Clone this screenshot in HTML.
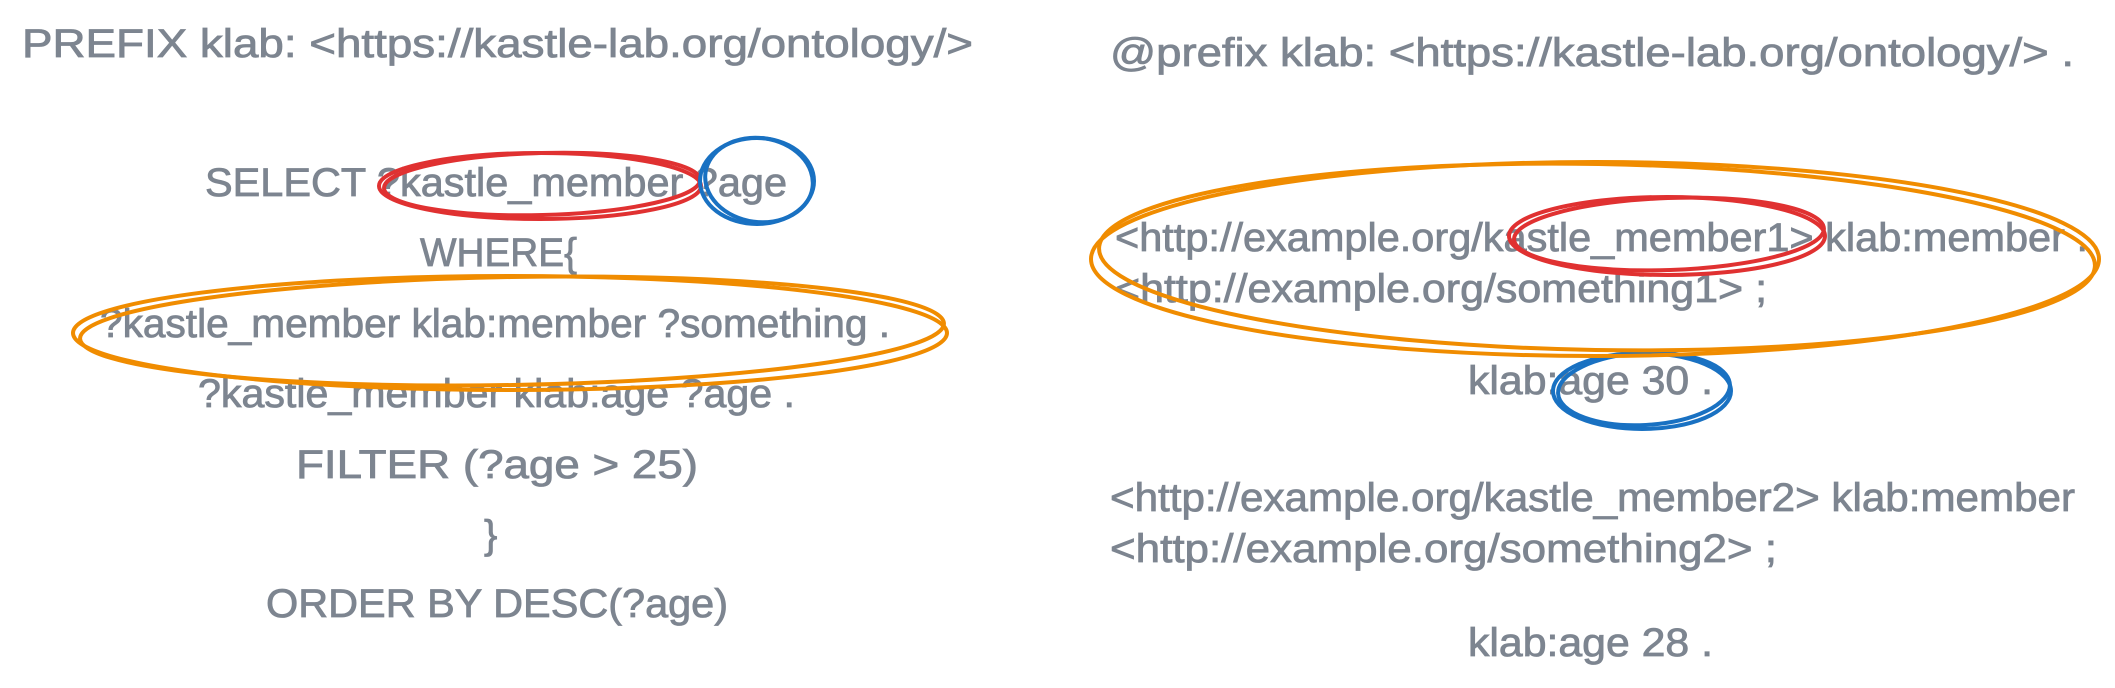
<!DOCTYPE html>
<html><head><meta charset="utf-8"><style>
html,body{margin:0;padding:0;background:#fff;}
svg{display:block;}
text{font-family:"Liberation Sans",sans-serif;font-size:40px;fill:#7d8590;stroke:#7d8590;stroke-width:0.8px;}
</style></head><body>
<svg width="2115" height="688" viewBox="0 0 2115 688" xmlns="http://www.w3.org/2000/svg">
<text x="22" y="57" textLength="951" lengthAdjust="spacingAndGlyphs">PREFIX klab: &lt;https://kastle-lab.org/ontology/&gt;</text>
<text x="205" y="196" textLength="582" lengthAdjust="spacingAndGlyphs">SELECT ?kastle_member ?age</text>
<text x="420" y="266" textLength="157" lengthAdjust="spacingAndGlyphs">WHERE{</text>
<text x="100" y="337" textLength="790" lengthAdjust="spacingAndGlyphs">?kastle_member klab:member ?something .</text>
<text x="198" y="407" textLength="597" lengthAdjust="spacingAndGlyphs">?kastle_member klab:age ?age .</text>
<text x="296" y="478" textLength="402" lengthAdjust="spacingAndGlyphs">FILTER (?age &gt; 25)</text>
<text x="484" y="548">}</text>
<text x="266" y="617" textLength="462" lengthAdjust="spacingAndGlyphs">ORDER BY DESC(?age)</text>

<text x="1110" y="66" textLength="964" lengthAdjust="spacingAndGlyphs">@prefix klab: &lt;https://kastle-lab.org/ontology/&gt; .</text>
<text x="1115" y="251" textLength="973" lengthAdjust="spacingAndGlyphs">&lt;http://example.org/kastle_member1&gt; klab:member .</text>
<text x="1115" y="302" textLength="652" lengthAdjust="spacingAndGlyphs">&lt;http://example.org/something1&gt; ;</text>
<text x="1468" y="394" textLength="245" lengthAdjust="spacingAndGlyphs">klab:age 30 .</text>
<text x="1110" y="511" textLength="965" lengthAdjust="spacingAndGlyphs">&lt;http://example.org/kastle_member2&gt; klab:member</text>
<text x="1110" y="562" textLength="667" lengthAdjust="spacingAndGlyphs">&lt;http://example.org/something2&gt; ;</text>
<text x="1468" y="656" textLength="245" lengthAdjust="spacingAndGlyphs">klab:age 28 .</text>

<g fill="none" stroke-width="4" stroke-linecap="round">
<g stroke="#e03131">
<ellipse cx="540" cy="186" rx="161" ry="33"/>
<ellipse cx="542" cy="184" rx="158" ry="31" transform="rotate(-1.5 542 184)"/>
<ellipse cx="1667" cy="236" rx="158" ry="39"/>
<ellipse cx="1669" cy="234" rx="155" ry="36" transform="rotate(-2 1669 234)"/>
</g>
<g stroke="#1971c2">
<ellipse cx="757" cy="181" rx="57" ry="43"/>
<ellipse cx="759" cy="180" rx="54" ry="42" transform="rotate(8 759 180)"/>
<ellipse cx="1642" cy="391" rx="89" ry="38"/>
<ellipse cx="1644" cy="389" rx="86" ry="36" transform="rotate(-3 1644 389)"/>
</g>
<g stroke="#f08c00">
<ellipse cx="510" cy="333" rx="437" ry="57"/>
<ellipse cx="512" cy="331" rx="432" ry="54" transform="rotate(-1 512 331)"/>
<ellipse cx="1595" cy="259" rx="504" ry="97"/>
<ellipse cx="1597" cy="257" rx="498" ry="93" transform="rotate(1 1597 257)"/>
</g>
</g>
</svg>
</body></html>
